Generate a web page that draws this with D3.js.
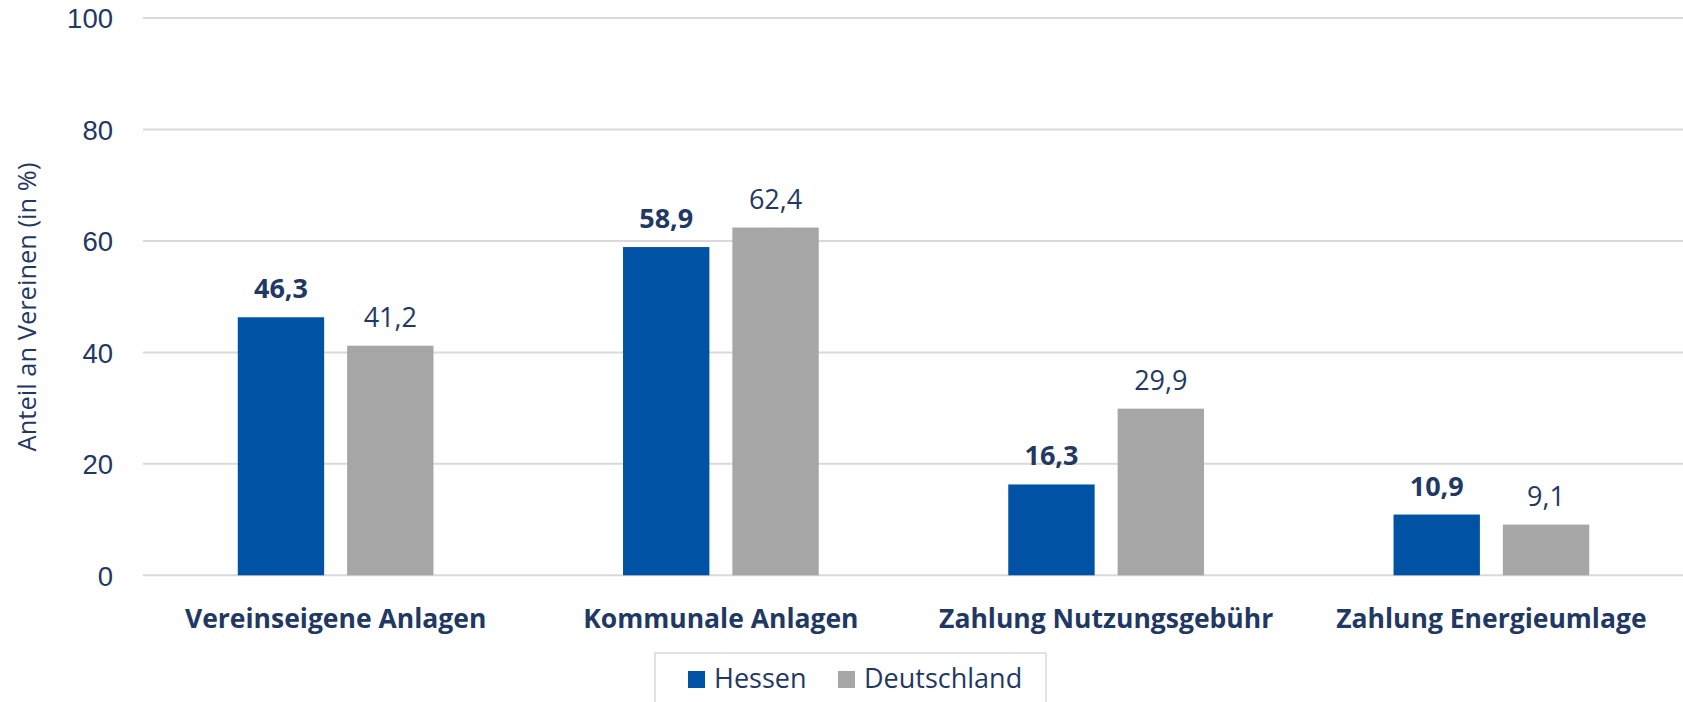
<!DOCTYPE html>
<html>
<head>
<meta charset="utf-8">
<script src="https://cdn.jsdelivr.net/npm/d3@7"></script>
<style>
  html, body { margin: 0; padding: 0; background: #ffffff; }
  svg { display: block; font-family: "Open Sans", "Noto Sans", sans-serif; }
</style>
</head>
<body>
<svg id="chart" width="1683" height="702"></svg>
<script>
const categories = ["Vereinseigene Anlagen", "Kommunale Anlagen", "Zahlung Nutzungsgebühr", "Zahlung Energieumlage"];
const seriesNames = ["Hessen", "Deutschland"];
const hessen = [46.3, 58.9, 16.3, 10.9];
const deutschland = [41.2, 62.4, 29.9, 9.1];
const yTicks = [0, 20, 40, 60, 80, 100];
const yTitle = "Anteil an Vereinen (in %)";

const colors = { Hessen: "#0052a5", Deutschland: "#a6a6a6" };
const textColor = "#1f3864";

const W = 1683, H = 702;
const plot = { left: 143, right: 1684, top: 18, bottom: 575.3 };

const svg = d3.select("#chart");

const x0 = d3.scaleBand().domain(categories).range([plot.left, plot.right]).padding(0);
const groupW = x0.bandwidth() * 0.508;
const x1 = d3.scaleBand().domain(seriesNames).range([-groupW / 2, groupW / 2]).paddingInner(0.21).paddingOuter(0);
const y = d3.scaleLinear().domain([0, 100]).range([plot.bottom, plot.top]);

// gridlines
svg.append("g")
  .selectAll("line")
  .data(yTicks)
  .join("line")
  .attr("x1", plot.left)
  .attr("x2", W)
  .attr("y1", d => y(d))
  .attr("y2", d => y(d))
  .attr("stroke", "#d9d9d9")
  .attr("stroke-width", 2);

// y axis labels
const yAxis = d3.axisLeft(y).tickValues(yTicks).tickSize(0).tickPadding(0).tickFormat(d3.format("d"));
const gy = svg.append("g").attr("transform", `translate(113,0)`).call(yAxis);
gy.select(".domain").remove();
gy.selectAll("text")
  .attr("fill", textColor)
  .style("font-size", "27.5px")
  .attr("dy", "0.36em");

// y title
svg.append("text")
  .attr("transform", `translate(36, 307) rotate(-90)`)
  .attr("text-anchor", "middle")
  .attr("fill", textColor)
  .style("font-size", "25.5px")
  .text(yTitle);

// bars
const rows = categories.map((c, i) => ({ cat: c, values: [
  { name: "Hessen", value: hessen[i] },
  { name: "Deutschland", value: deutschland[i] }
]}));

const groups = svg.append("g")
  .selectAll("g")
  .data(rows)
  .join("g")
  .attr("transform", d => `translate(${x0(d.cat) + x0.bandwidth() / 2},0)`);

groups.selectAll("rect")
  .data(d => d.values)
  .join("rect")
  .attr("x", d => x1(d.name))
  .attr("width", x1.bandwidth())
  .attr("y", d => y(d.value))
  .attr("height", d => y(0) - y(d.value))
  .attr("fill", d => colors[d.name]);

groups.selectAll("text.val")
  .data(d => d.values)
  .join("text")
  .attr("class", "val")
  .attr("x", d => x1(d.name) + x1.bandwidth() / 2)
  .attr("y", d => y(d.value) - 19)
  .attr("text-anchor", "middle")
  .attr("fill", textColor)
  .style("font-size", "27px")
  .style("font-weight", d => d.name === "Hessen" ? "700" : "400")
  .text(d => d3.format(".1f")(d.value).replace(".", ","));

// category labels
svg.append("g")
  .selectAll("text")
  .data(categories)
  .join("text")
  .attr("x", d => x0(d) + x0.bandwidth() / 2)
  .attr("y", 628)
  .attr("text-anchor", "middle")
  .attr("fill", textColor)
  .style("font-size", "26.5px")
  .style("font-weight", "700")
  .text(d => d);

// legend
const lg = svg.append("g");
lg.append("rect")
  .attr("x", 655).attr("y", 653)
  .attr("width", 391).attr("height", 70)
  .attr("fill", "#ffffff")
  .attr("stroke", "#d9d9d9")
  .attr("stroke-width", 1.5);
const legendX = [688, 838];
seriesNames.forEach((s, i) => {
  lg.append("rect")
    .attr("x", legendX[i]).attr("y", 671)
    .attr("width", 17).attr("height", 17)
    .attr("fill", colors[s]);
  lg.append("text")
    .attr("x", legendX[i] + 26).attr("y", 688)
    .attr("fill", textColor)
    .style("font-size", "27px")
    .text(s);
});
</script>
</body>
</html>
